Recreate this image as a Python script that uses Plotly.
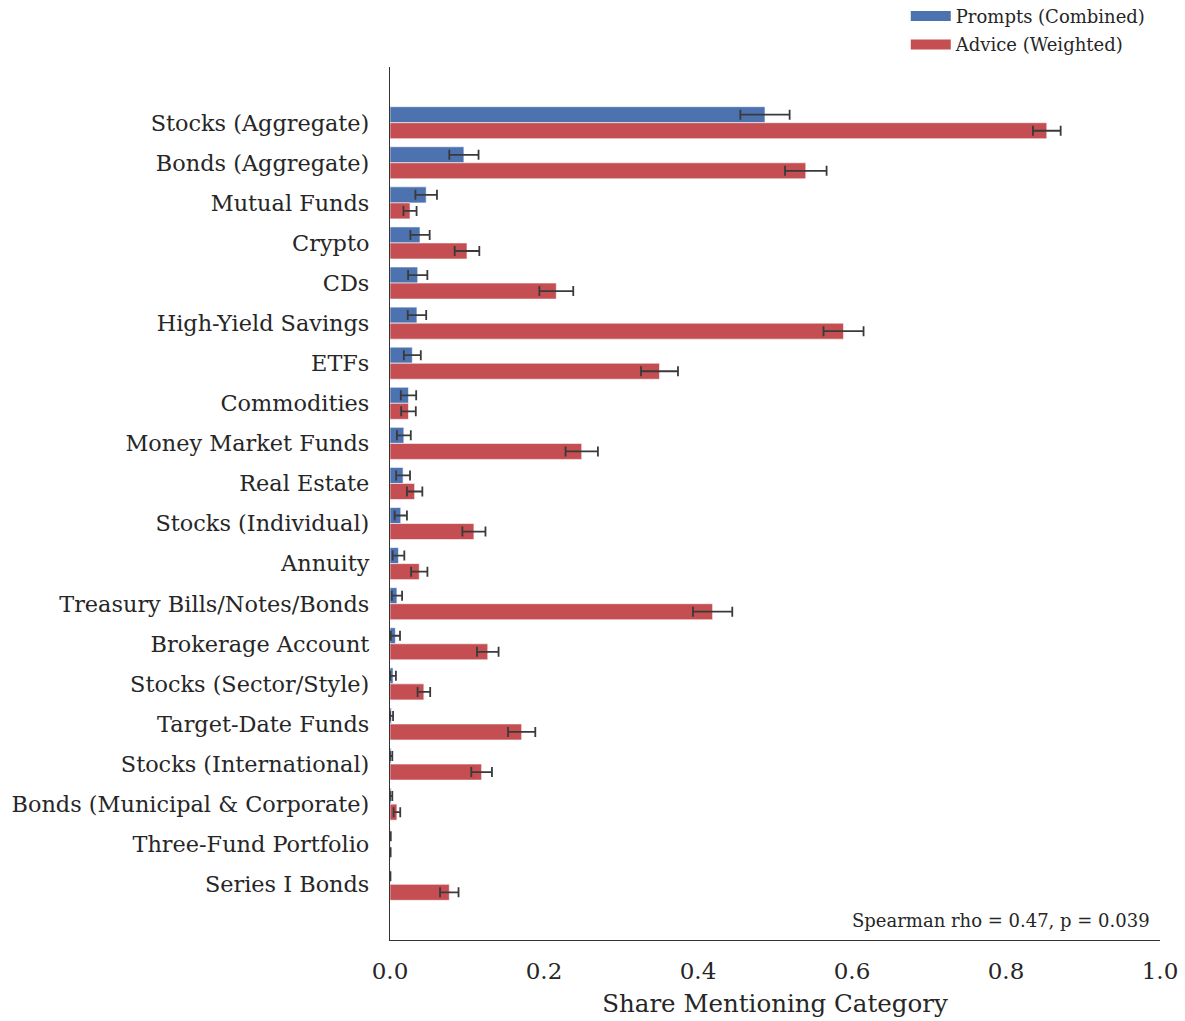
import plotly.graph_objects as go

# Investment categories, ordered by how often prompts mention them
categories = [
    "Stocks (Aggregate)", "Bonds (Aggregate)", "Mutual Funds", "Crypto", "CDs",
    "High-Yield Savings", "ETFs", "Commodities", "Money Market Funds", "Real Estate",
    "Stocks (Individual)", "Annuity", "Treasury Bills/Notes/Bonds", "Brokerage Account",
    "Stocks (Sector/Style)", "Target-Date Funds", "Stocks (International)",
    "Bonds (Municipal & Corporate)", "Three-Fund Portfolio", "Series I Bonds",
]

# Share of prompts (combined) mentioning each category, with CI half-widths
prompts_share = [0.487, 0.096, 0.047, 0.039, 0.036, 0.035, 0.029, 0.024, 0.018, 0.017,
                 0.014, 0.011, 0.009, 0.007, 0.004, 0.002, 0.0015, 0.0015, 0.0005, 0.0003]
prompts_err = [0.032, 0.019, 0.014, 0.0125, 0.0125, 0.012, 0.011, 0.010, 0.009, 0.009,
               0.008, 0.0076, 0.0067, 0.006, 0.0037, 0.002, 0.0015, 0.0015, 0.0005, 0.0003]

# Share of (weighted) advice mentioning each category, with CI half-widths
advice_share = [0.853, 0.540, 0.026, 0.100, 0.216, 0.589, 0.350, 0.024, 0.249, 0.032,
                0.109, 0.038, 0.419, 0.127, 0.044, 0.171, 0.119, 0.009, 0.0008, 0.077]
advice_err = [0.018, 0.027, 0.0085, 0.016, 0.022, 0.026, 0.024, 0.0095, 0.021, 0.010,
              0.015, 0.0106, 0.0255, 0.014, 0.0082, 0.0177, 0.0134, 0.0043, 0.0, 0.012]

series_names = ["Prompts (Combined)", "Advice (Weighted)"]
colors = ["#4C72B0", "#C44E52"]
stat_text = "Spearman rho = 0.47, p = 0.039"

FONT = "DejaVu Serif"
TEXT = "#262626"
ERR = "#3a3a3a"

fig = go.Figure()

for name, vals, errs, col in zip(series_names, [prompts_share, advice_share],
                                 [prompts_err, advice_err], colors):
    fig.add_trace(go.Bar(
        y=categories, x=vals, orientation="h", name=name,
        marker=dict(color=col, line=dict(color="rgba(255,255,255,0.6)", width=1)),
        error_x=dict(type="data", array=errs, visible=True, color=ERR,
                     thickness=1.8, width=5),
        showlegend=False, legendgroup=name,
    ))
    # wide swatch for the legend entry
    fig.add_trace(go.Scatter(
        x=[None], y=[None], mode="lines", name=name, legendgroup=name,
        line=dict(color=col, width=12),
    ))

n = len(categories)
pad = 1.39

fig.update_layout(
    width=1185, height=1021,
    margin=dict(l=390, r=25, t=67, b=81, autoexpand=False),
    paper_bgcolor="white", plot_bgcolor="white",
    barmode="group", bargap=0.2, bargroupgap=0.0,
    font=dict(family=FONT, color=TEXT, size=22),
    legend=dict(
        x=0.988, y=1.0792, xanchor="right", yanchor="top",
        font=dict(family=FONT, size=18, color=TEXT),
        bgcolor="rgba(0,0,0,0)", borderwidth=0,
        itemwidth=40, tracegroupgap=2,
    ),
    xaxis=dict(
        range=[0, 1.0], tickvals=[0, 0.2, 0.4, 0.6, 0.8, 1.0], tickformat=".1f",
        showgrid=False, zeroline=False, showline=True, linecolor="#333333",
        linewidth=1.3, ticks="", ticklabelstandoff=10,
        tickfont=dict(family=FONT, size=23, color=TEXT),
        title=dict(text="Share Mentioning Category", standoff=12,
                   font=dict(family=FONT, size=24.5, color=TEXT)),
    ),
    yaxis=dict(
        type="category", categoryorder="array", categoryarray=categories,
        range=[n - 1 + pad, -pad],
        showgrid=False, zeroline=False, showline=True, linecolor="#333333",
        linewidth=1.3, ticks="", ticklabelstandoff=15,
        tickfont=dict(family=FONT, size=22.4, color=TEXT),
    ),
    annotations=[dict(
        text=stat_text, x=0.9896, y=0.022, xref="paper", yref="paper",
        xanchor="right", yanchor="middle", showarrow=False,
        font=dict(family=FONT, size=18, color=TEXT),
    )],
)

fig.write_html("out.html")
